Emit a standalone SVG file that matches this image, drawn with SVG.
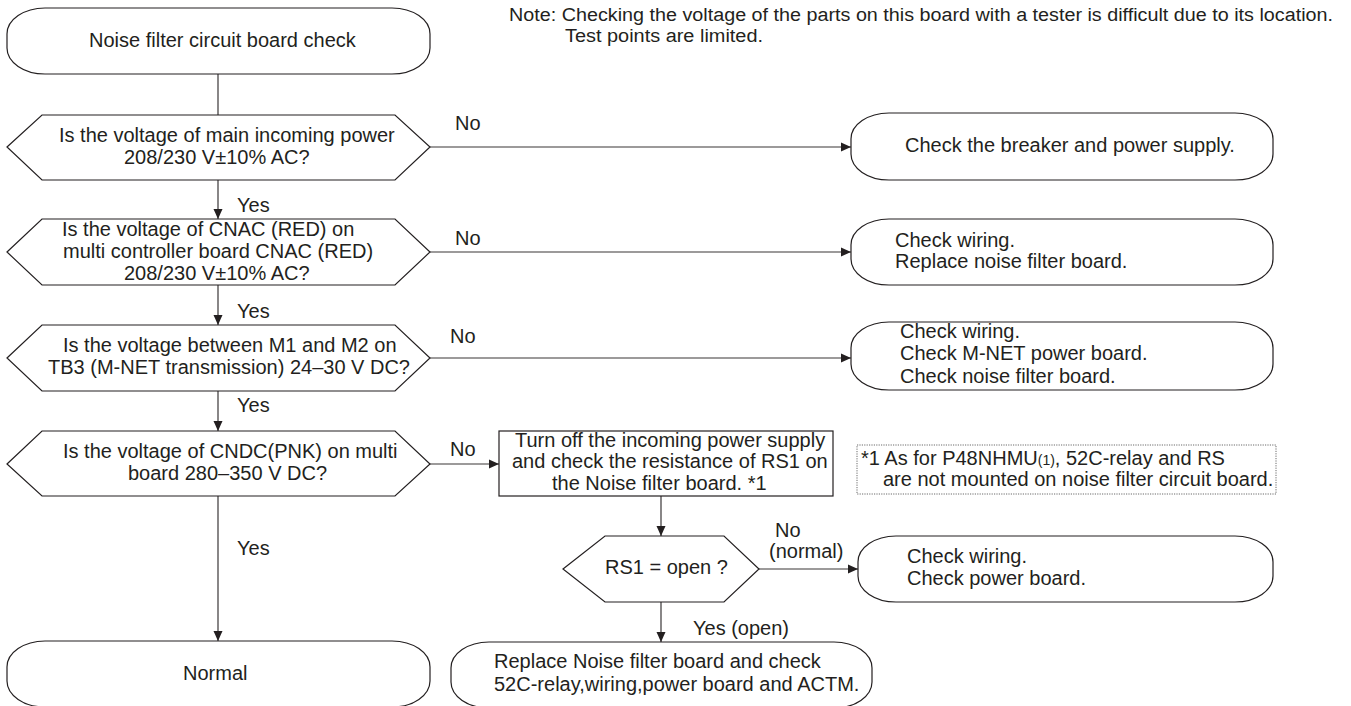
<svg xmlns="http://www.w3.org/2000/svg" width="1351" height="706" viewBox="0 0 1351 706">
<defs>
<marker id="ah" viewBox="0 0 10 10" refX="10" refY="5" markerWidth="10" markerHeight="10" markerUnits="userSpaceOnUse" orient="auto">
<path d="M0,0.5 L10,5 L0,9.5 z" fill="#231f20"/>
</marker>
</defs>
<style>
text{font-family:"Liberation Sans",Arial,sans-serif;font-size:20px;fill:#231f20}
.s{fill:#fff;stroke:#231f20;stroke-width:1.2}
.c{fill:none;stroke:#3a3637;stroke-width:1.2}
.a{marker-end:url(#ah)}
.note{font-size:18px}
.fn{fill:#fff;stroke:#6a6a6a;stroke-width:1;stroke-dasharray:1.2 1.2}
</style>
<rect width="1351" height="706" fill="#fff"/>

<g id="note">
<text class="note" x="509" y="21" textLength="824" lengthAdjust="spacingAndGlyphs">Note: Checking the voltage of the parts on this board with a tester is difficult due to its location.</text>
<text class="note" x="565" y="42" textLength="198" lengthAdjust="spacingAndGlyphs">Test points are limited.</text>
</g>

<g id="connectors">
<line class="c" x1="218" y1="74" x2="218" y2="115"/>
<line class="c a" x1="218" y1="180" x2="218" y2="219"/>
<line class="c a" x1="218" y1="285" x2="218" y2="325"/>
<line class="c a" x1="218" y1="391" x2="218" y2="431"/>
<line class="c a" x1="218" y1="496" x2="218" y2="641"/>
<line class="c a" x1="430" y1="147" x2="851" y2="147"/>
<line class="c a" x1="430" y1="252" x2="851" y2="252"/>
<line class="c a" x1="430" y1="358" x2="851" y2="358"/>
<line class="c a" x1="430" y1="464" x2="499" y2="464"/>
<line class="c a" x1="661" y1="496" x2="661" y2="536"/>
<line class="c a" x1="759" y1="569" x2="858" y2="569"/>
<line class="c a" x1="661" y1="602" x2="661" y2="642"/>
<text x="455" y="130">No</text>
<text x="455" y="245">No</text>
<text x="450" y="343">No</text>
<text x="450" y="456">No</text>
<text x="237" y="212">Yes</text>
<text x="237" y="318">Yes</text>
<text x="237" y="412">Yes</text>
<text x="237" y="555">Yes</text>
<text x="775" y="537">No</text>
<text x="769" y="558">(normal)</text>
<text x="693" y="635">Yes (open)</text>
</g>

<g id="start">
<rect class="s" x="7" y="8" width="423" height="66" rx="38" ry="26"/>
<text x="89" y="47">Noise filter circuit board check</text>
</g>

<g id="d1">
<polygon class="s" points="7,147 42,115 395,115 430,147 395,180 42,180"/>
<text x="59" y="142">Is the voltage of main incoming power</text>
<text x="124" y="164">208/230 V±10% AC?</text>
</g>

<g id="d2">
<polygon class="s" points="7,252 42,219 395,219 430,252 395,285 42,285"/>
<text x="62" y="236">Is the voltage of CNAC (RED) on</text>
<text x="63" y="258">multi controller board CNAC (RED)</text>
<text x="124" y="280">208/230 V±10% AC?</text>
</g>

<g id="d3">
<polygon class="s" points="7,358 42,325 395,325 430,358 395,391 42,391"/>
<text x="63" y="352">Is the voltage between M1 and M2 on</text>
<text x="48" y="374">TB3 (M-NET transmission) 24–30 V DC?</text>
</g>

<g id="d4">
<polygon class="s" points="7,464 42,431 395,431 430,464 395,496 42,496"/>
<text x="63" y="458">Is the voltage of CNDC(PNK) on multi</text>
<text x="128" y="480">board 280–350 V DC?</text>
</g>

<g id="normal">
<rect class="s" x="7" y="641" width="423" height="66" rx="38" ry="26"/>
<text x="183" y="680">Normal</text>
</g>

<g id="r1">
<rect class="s" x="851" y="113" width="422" height="67" rx="38" ry="26"/>
<text x="905" y="152">Check the breaker and power supply.</text>
</g>

<g id="r2">
<rect class="s" x="851" y="219" width="422" height="66" rx="38" ry="26"/>
<text x="895" y="247">Check wiring.</text>
<text x="895" y="268">Replace noise filter board.</text>
</g>

<g id="r3">
<rect class="s" x="851" y="322" width="422" height="68" rx="38" ry="26"/>
<text x="900" y="338">Check wiring.</text>
<text x="900" y="360">Check M-NET power board.</text>
<text x="900" y="383">Check noise filter board.</text>
</g>

<g id="turnoff">
<rect class="s" x="499" y="431" width="334" height="65"/>
<text x="515" y="447">Turn off the incoming power supply</text>
<text x="512" y="468">and check the resistance of RS1 on</text>
<text x="552" y="490">the Noise filter board. *1</text>
</g>

<g id="footnote">
<rect class="fn" x="857" y="445" width="419" height="49"/>
<text x="861" y="465">*1 As for P48NHMU<tspan font-size="14">(1)</tspan>, 52C-relay and RS</text>
<text x="883" y="486">are not mounted on noise filter circuit board.</text>
</g>

<g id="rs1">
<polygon class="s" points="563,569 605,536 724,536 759,569 724,602 605,602"/>
<text x="605" y="574">RS1 = open ?</text>
</g>

<g id="r4">
<rect class="s" x="858" y="536" width="415" height="66" rx="38" ry="26"/>
<text x="907" y="563">Check wiring.</text>
<text x="907" y="585">Check power board.</text>
</g>

<g id="r5">
<rect class="s" x="451" y="642" width="421" height="66" rx="38" ry="26"/>
<text x="494" y="668">Replace Noise filter board and check</text>
<text x="494" y="691">52C-relay,wiring,power board and ACTM.</text>
</g>
</svg>
